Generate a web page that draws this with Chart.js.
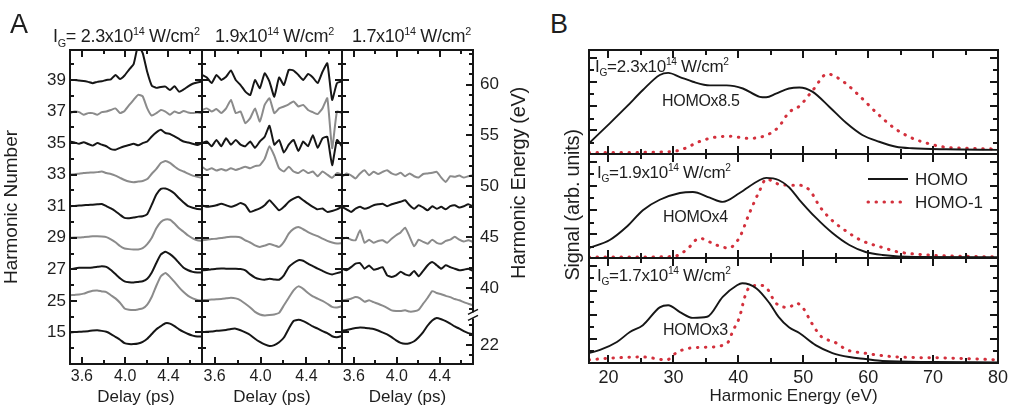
<!DOCTYPE html>
<html>
<head>
<meta charset="utf-8">
<title>Harmonic signal vs delay</title>
<script src="https://cdn.jsdelivr.net/npm/chart.js@4.4.1/dist/chart.umd.min.js"></script>
<style>
  body { margin: 0; background: #fff; }
  #wrap { position: relative; width: 1012px; height: 412px; overflow: hidden;
          font-family: "Liberation Sans", Arial, sans-serif; color: #1e1e1e; }
  canvas { position: absolute; }
  .lbl { position: absolute; white-space: nowrap; line-height: 1; letter-spacing: -0.3px; }
  .lbl sub, .lbl sup { font-size: 60%; line-height: 0; }
  .rot { transform: translate(-50%, -50%) rotate(-90deg); }
</style>
</head>
<body>
<div id="wrap">
  <canvas id="a1" width="203" height="412" style="left:0;top:0"></canvas>
  <canvas id="a2" width="153" height="412" style="left:190px;top:0"></canvas>
  <canvas id="a3" width="211" height="412" style="left:330px;top:0"></canvas>
  <canvas id="b1" width="439" height="106" style="left:560px;top:49px"></canvas>
  <canvas id="b2" width="439" height="106" style="left:560px;top:153px"></canvas>
  <canvas id="b3" width="452" height="155" style="left:560px;top:257px"></canvas>

  <div class="lbl" style="left:10px;top:11px;font-size:27px">A</div>
  <div class="lbl" style="left:550px;top:11px;font-size:27px">B</div>

  <div class="lbl" style="left:53px;top:27px;font-size:18px">I<sub>G</sub>= 2.3x10<sup>14</sup> W/cm<sup>2</sup></div>
  <div class="lbl" style="left:215px;top:27px;font-size:18px">1.9x10<sup>14</sup> W/cm<sup>2</sup></div>
  <div class="lbl" style="left:352px;top:27px;font-size:18px">1.7x10<sup>14</sup> W/cm<sup>2</sup></div>
  <div class="lbl rot" style="left:518px;top:183px;font-size:20px">Harmonic Energy (eV)</div>

  <div class="lbl rot" style="left:572px;top:205px;font-size:20px">Signal (arb. units)</div>
  <div class="lbl" style="left:595px;top:58px;font-size:17px">I<sub>G</sub>=2.3x10<sup>14</sup> W/cm<sup>2</sup></div>
  <div class="lbl" style="left:662px;top:93px;font-size:16px">HOMOx8.5</div>
  <div class="lbl" style="left:597px;top:164px;font-size:17px">I<sub>G</sub>=1.9x10<sup>14</sup> W/cm<sup>2</sup></div>
  <div class="lbl" style="left:663px;top:209px;font-size:16px">HOMOx4</div>
  <div class="lbl" style="left:597px;top:267px;font-size:17px">I<sub>G</sub>=1.7x10<sup>14</sup> W/cm<sup>2</sup></div>
  <div class="lbl" style="left:663px;top:322px;font-size:16px">HOMOx3</div>
</div>

<script>
// ---- panel A: delay scans, one array per harmonic (offset from its own baseline) ----
var delay = [3.490, 3.532, 3.574, 3.616, 3.658, 3.700, 3.742, 3.784, 3.826, 3.868,
             3.910, 3.952, 3.994, 4.036, 4.078, 4.120, 4.162, 4.204, 4.246, 4.288,
             4.330, 4.372, 4.414, 4.456, 4.498, 4.540, 4.582, 4.624, 4.666, 4.708];
var harmonics = [15, 25, 27, 29, 31, 33, 35, 37, 39];
var delayTicks = [3.6, 4.0, 4.4];
var delayMinor = [3.8, 4.2, 4.6];
var energyTicks = [22, 40, 45, 50, 55, 60];

// I_G = 2.3e14
var p1h39 = [0.00, 0.00, -0.02, -0.03, -0.06, -0.10, -0.06, -0.04, 0.00, 0.02, 0.16, 0.03, 0.14, 0.33, 0.50, 1.10, 0.85, 0.25, -0.18, -0.25, -0.22, -0.21, -0.32, -0.20, -0.37, -0.30, -0.20, -0.12, -0.08, -0.05];
var p1h37 = [-0.05, 0.00, -0.02, -0.10, -0.05, -0.05, -0.10, -0.02, 0.00, 0.05, 0.10, -0.05, 0.02, 0.20, 0.37, 0.53, 0.48, 0.10, -0.13, -0.05, 0.05, 0.00, -0.10, 0.00, -0.05, 0.02, -0.03, -0.05, -0.03, -0.05];
var p1h35 = [0.05, 0.02, -0.02, 0.03, -0.03, -0.08, 0.00, -0.05, -0.10, -0.19, -0.21, -0.15, -0.10, -0.06, -0.02, -0.07, 0.00, 0.05, 0.21, 0.34, 0.42, 0.32, 0.29, 0.21, 0.13, 0.05, 0.02, -0.02, -0.06, 0.00];
var p1h33 = [0.00, 0.01, 0.03, 0.05, 0.06, 0.07, 0.08, 0.10, 0.05, 0.02, -0.03, -0.10, -0.17, -0.22, -0.24, -0.22, -0.20, -0.14, 0.03, 0.18, 0.37, 0.43, 0.37, 0.26, 0.16, 0.10, 0.03, -0.03, -0.07, -0.10];
var p1h31 = [0.00, 0.01, 0.02, 0.03, 0.04, 0.05, 0.06, 0.07, 0.00, -0.07, -0.16, -0.27, -0.37, -0.38, -0.36, -0.33, -0.32, -0.25, 0.05, 0.37, 0.55, 0.56, 0.50, 0.40, 0.25, 0.12, 0.00, -0.05, -0.09, -0.10];
var p1h29 = [0.00, 0.01, 0.01, 0.02, 0.03, 0.05, 0.05, 0.04, 0.02, -0.05, -0.14, -0.26, -0.34, -0.36, -0.37, -0.37, -0.33, -0.20, 0.00, 0.30, 0.50, 0.58, 0.57, 0.45, 0.30, 0.19, 0.07, -0.02, -0.08, -0.10];
var p1h27 = [0.00, 0.03, 0.05, 0.05, 0.05, 0.06, 0.08, 0.10, 0.08, -0.02, -0.15, -0.28, -0.38, -0.41, -0.42, -0.40, -0.38, -0.30, -0.10, 0.20, 0.47, 0.56, 0.48, 0.36, 0.20, 0.05, -0.03, -0.08, -0.10, -0.10];
var p1h25 = [0.18, 0.19, 0.20, 0.23, 0.28, 0.32, 0.33, 0.30, 0.28, 0.18, 0.08, -0.06, -0.24, -0.28, -0.29, -0.27, -0.24, -0.12, 0.13, 0.48, 0.78, 0.88, 0.76, 0.60, 0.43, 0.28, 0.16, 0.08, 0.03, 0.01];
var p1h15 = [0.00, 0.01, 0.02, 0.03, 0.04, 0.06, 0.07, 0.05, 0.02, -0.05, -0.14, -0.23, -0.34, -0.37, -0.37, -0.35, -0.30, -0.20, -0.05, 0.10, 0.20, 0.29, 0.28, 0.20, 0.10, 0.02, -0.05, -0.10, -0.13, -0.13];

// I_G = 1.9e14
var p2h39 = [0.16, 0.08, -0.10, 0.16, 0.00, 0.10, 0.30, 0.00, -0.16, -0.37, -0.48, 0.00, -0.26, 0.21, -0.05, -0.53, 0.08, -0.16, 0.32, 0.30, 0.16, 0.00, 0.19, 0.08, -0.10, 0.26, 0.53, -0.63, -0.10, -0.05];
var p2h37 = [0.05, 0.10, 0.00, 0.08, -0.05, 0.10, 0.37, -0.05, 0.00, -0.37, -0.21, 0.10, -0.32, 0.21, 0.42, -0.05, 0.10, 0.16, 0.23, 0.32, 0.16, 0.21, 0.05, -0.02, -0.08, 0.10, 0.42, -1.16, 0.00, -0.05];
var p2h35 = [0.00, 0.05, -0.10, 0.10, -0.10, 0.15, -0.05, 0.10, -0.05, -0.10, 0.05, -0.15, 0.05, 0.20, 0.55, -0.05, 0.10, -0.30, -0.05, 0.10, -0.25, 0.05, -0.10, 0.25, -0.15, 0.15, 0.20, -0.70, 0.10, -0.10];
var p2h33 = [0.25, 0.15, 0.20, 0.13, 0.18, 0.13, 0.20, 0.15, 0.20, 0.25, 0.20, 0.27, 0.30, 0.50, 0.90, 0.60, 0.20, 0.10, 0.25, 0.10, 0.05, 0.15, 0.05, 0.10, -0.05, 0.10, 0.00, -0.10, 0.05, 0.00];
var p2h31 = [0.03, -0.02, 0.00, 0.03, 0.08, 0.03, -0.02, 0.03, 0.10, 0.03, -0.18, -0.13, -0.07, 0.03, 0.19, 0.03, -0.13, -0.02, 0.14, 0.24, 0.30, 0.19, 0.08, -0.02, -0.10, -0.07, -0.18, -0.15, -0.10, -0.02];
var p2h29 = [-0.08, -0.06, -0.04, -0.03, -0.01, 0.02, 0.03, 0.03, 0.01, -0.08, -0.15, -0.24, -0.29, -0.25, -0.20, -0.24, -0.29, -0.13, 0.13, 0.28, 0.34, 0.27, 0.18, 0.11, 0.05, -0.03, -0.10, -0.15, -0.18, -0.17];
var p2h27 = [-0.03, -0.02, 0.00, 0.02, 0.03, 0.02, 0.02, 0.02, 0.01, -0.03, -0.16, -0.26, -0.31, -0.33, -0.30, -0.32, -0.33, -0.19, 0.07, 0.20, 0.29, 0.27, 0.18, 0.10, 0.02, -0.05, -0.12, -0.16, -0.12, -0.08];
var p2h25 = [0.02, 0.03, 0.04, 0.05, 0.06, 0.08, 0.10, 0.08, 0.02, -0.09, -0.21, -0.35, -0.43, -0.46, -0.45, -0.43, -0.38, -0.14, 0.10, 0.33, 0.46, 0.38, 0.25, 0.14, 0.07, 0.00, -0.09, -0.19, -0.21, -0.17];
var p2h15 = [0.01, 0.02, 0.03, 0.05, 0.06, 0.08, 0.11, 0.12, 0.07, 0.00, -0.08, -0.20, -0.30, -0.38, -0.43, -0.40, -0.31, -0.16, 0.12, 0.36, 0.40, 0.36, 0.28, 0.19, 0.12, 0.04, -0.02, -0.12, -0.15, -0.11];

// I_G = 1.7e14
var p3h33 = [-0.07, 0.04, -0.02, -0.12, 0.04, 0.14, -0.02, 0.09, 0.02, 0.09, 0.14, 0.04, 0.00, 0.06, -0.05, 0.04, -0.05, -0.09, 0.02, 0.04, 0.06, 0.09, -0.09, -0.23, -0.05, -0.07, -0.03, -0.09, -0.05, -0.02];
var p3h31 = [-0.02, -0.10, -0.18, -0.08, -0.02, -0.08, -0.04, 0.03, 0.06, 0.08, 0.00, 0.06, 0.10, 0.14, 0.19, 0.03, -0.08, 0.03, -0.04, -0.13, 0.00, -0.08, -0.02, -0.10, 0.00, 0.03, -0.04, 0.00, 0.06, 0.00];
var p3h29 = [-0.03, 0.00, -0.06, -0.08, 0.24, -0.16, -0.06, -0.16, -0.10, -0.08, -0.16, -0.03, 0.08, 0.17, 0.32, 0.03, -0.27, -0.06, -0.13, -0.19, -0.06, -0.16, -0.19, -0.10, -0.06, 0.03, -0.06, -0.12, -0.08, -0.13];
var p3h27 = [0.02, -0.03, 0.07, 0.18, 0.20, 0.02, 0.12, -0.01, 0.02, 0.07, -0.19, -0.24, -0.19, -0.08, -0.16, -0.19, -0.05, -0.22, -0.05, 0.13, 0.23, 0.13, 0.02, 0.13, 0.07, 0.02, -0.03, -0.01, 0.02, -0.05];
var p3h25 = [0.02, 0.04, 0.07, 0.12, 0.08, -0.03, 0.02, -0.04, -0.09, -0.15, -0.22, -0.30, -0.32, -0.32, -0.30, -0.34, -0.33, -0.28, -0.09, 0.10, 0.31, 0.25, 0.21, 0.16, 0.12, 0.06, 0.02, -0.04, -0.09, -0.14];
var p3h15 = [0.06, 0.08, 0.11, 0.14, 0.16, 0.15, 0.13, 0.11, 0.06, 0.00, -0.06, -0.15, -0.25, -0.33, -0.36, -0.34, -0.28, -0.15, 0.01, 0.22, 0.38, 0.46, 0.42, 0.36, 0.28, 0.19, 0.12, 0.04, -0.02, -0.06];

// ---- panel B: spectra ----
var spectrumTicks = [20, 30, 40, 50, 60, 70, 80];
var spectrumMinor = [25, 35, 45, 55, 65, 75];

var homoE1 = [17, 20.2, 22.8, 25.3, 27.9, 29.2, 31, 33, 35.6, 38.2, 40.7, 43.3, 44.3, 45.8, 47.8, 49.4, 51.4, 54, 56.6, 59.1, 61.7, 64.3, 66.8, 72, 80];
var homoS1 = [1.03, 2.95, 4.55, 6.15, 7.6, 7.8, 7.4, 6.95, 6.6, 6.6, 6.3, 5.5, 5.45, 5.8, 6.3, 6.4, 6.0, 4.55, 3.0, 1.83, 1.18, 0.7, 0.55, 0.45, 0.4];
var homo1E1 = [17, 24, 28, 30.5, 32, 33.8, 36.3, 38.8, 41.5, 44.3, 46.2, 47.8, 49.4, 51.5, 53.7, 56.3, 58.8, 61.4, 64, 66.5, 69, 71.7, 75, 80];
var homo1S1 = [0.15, 0.15, 0.2, 0.3, 0.6, 1.15, 1.6, 1.7, 1.5, 1.8, 2.6, 4.0, 4.6, 6.15, 7.7, 6.9, 5.5, 3.9, 2.5, 1.6, 1.05, 0.67, 0.55, 0.48];

var homoE2 = [17, 20.2, 22.8, 25.3, 27.9, 31, 33, 35.6, 37.6, 40.2, 43.3, 44.3, 46.2, 47.8, 49.4, 51.9, 54.5, 57.1, 59.6, 62.2, 67.3, 80];
var homoS2 = [0.96, 1.73, 3.0, 4.6, 5.6, 6.25, 6.35, 5.8, 5.4, 6.25, 7.5, 7.7, 7.5, 6.8, 5.6, 3.9, 2.4, 1.25, 0.58, 0.29, 0.1, 0.08];
var homo1E2 = [17, 25, 30, 32, 34, 36.6, 38.5, 40.2, 41.7, 43.3, 44.3, 46.2, 48, 49.4, 51, 52.6, 54.3, 56.8, 58.9, 62, 64.5, 69, 80];
var homo1S2 = [0.1, 0.1, 0.15, 0.77, 1.9, 1.25, 0.96, 2.0, 4.3, 6.5, 7.6, 7.1, 7.0, 7.0, 6.5, 4.9, 3.7, 2.5, 1.7, 1.05, 0.6, 0.3, 0.1];

var homoE3 = [17, 18.7, 21.3, 23.3, 25.3, 27.9, 29.2, 31, 33, 35.2, 37.6, 39.8, 40.6, 42.8, 44.8, 46.2, 47.8, 49.4, 51.9, 54.5, 57.1, 59.6, 62.2, 70, 80];
var homoS3 = [0.95, 1.24, 2.0, 2.95, 3.6, 5.3, 5.5, 4.85, 4.3, 4.4, 6.3, 7.4, 7.6, 7.1, 5.7, 4.4, 3.4, 2.85, 1.7, 0.95, 0.57, 0.38, 0.19, 0.1, 0.05];
var homo1E3 = [17, 20, 25.3, 29, 30.4, 32.3, 35.2, 38.3, 39.2, 40.2, 41, 41.7, 43.3, 44.3, 45.8, 47.8, 48.9, 49.9, 51.3, 52.8, 54.8, 56.8, 59.3, 64.6, 72, 80];
var homo1S3 = [0.3, 0.45, 0.57, 0.3, 0.95, 1.4, 1.5, 1.9, 3.1, 4.4, 6.3, 7.2, 7.4, 7.2, 5.7, 5.3, 5.7, 5.3, 3.8, 2.5, 2.0, 1.24, 0.95, 0.57, 0.48, 0.3];
var signalMajor = [2.3, 4.6, 6.9, 9.2];
var signalMinor = [1.1, 3.4, 5.8, 8.1];

var ink = '#161616';
var grey = '#8b8b8b';
var red = '#d3303c';

Chart.defaults.font.family = '"Liberation Sans", Arial, sans-serif';
Chart.defaults.color = '#1e1e1e';

// harmonic -> stacking level, energy (eV) -> same level units (axis break below 25th)
function levelOf(h) { return harmonics.indexOf(h); }
function energyLevel(e) { return e > 30 ? (e / 1.55 - 23) / 2 : (e / 1.55 - 15) / 2; }

var levelMajor = harmonics.map(function (h, i) { return i; });
var levelMinor = [-0.5, 0.5, 1.5, 2.5, 3.5, 4.5, 5.5, 6.5, 7.5, 8.5];
var energyMinor = [21, 23, 24, 38, 39, 41, 42, 43, 44, 46, 47, 48, 49, 51, 52, 53, 54, 56, 57, 58, 59, 61, 62, 63];

// tick-mark setup per canvas
var aMarks = { xMajor: delayTicks, xMinor: delayMinor, long: 7, short: 4,
               left: { major: levelMajor, minor: levelMinor }, right: { major: levelMajor, minor: levelMinor } };
var bMarks = { xMajor: spectrumTicks, xMinor: spectrumMinor, long: 8, short: 5,
               left: { major: signalMajor, minor: signalMinor }, right: { major: signalMajor, minor: signalMinor } };
var markCfg = {
    a1: aMarks,
    a2: aMarks,
    a3: { xMajor: delayTicks, xMinor: delayMinor, long: 7, short: 4,
          left: { major: levelMajor, minor: levelMinor },
          right: { major: energyTicks.map(energyLevel), minor: energyMinor.map(energyLevel) },
          brk: 0.54 },
    b1: bMarks, b2: bMarks, b3: bMarks
};

// inward tick marks + frame, drawn over the data
function drawMarks(chart) {
    var o = markCfg[chart.canvas.id];
    if (!o) return;
    var ctx = chart.ctx, a = chart.chartArea;
    var xs = chart.scales.x, ys = chart.scales.y;
    ctx.save();
    ctx.setLineDash([]);
    ctx.globalAlpha = 1;
    ctx.strokeStyle = ink;
    ctx.lineCap = 'butt';
    ctx.lineWidth = 2;
    ctx.beginPath();
    function seg(x1, y1, x2, y2) { ctx.moveTo(x1, y1); ctx.lineTo(x2, y2); }
    var xsets = [[o.xMajor, o.long], [o.xMinor, o.short]];
    xsets.forEach(function (set) {
        set[0].forEach(function (v) {
            var px = Math.round(xs.getPixelForValue(v));
            seg(px, a.bottom, px, a.bottom - set[1]);
            seg(px, a.top, px, a.top + set[1]);
        });
    });
    ['left', 'right'].forEach(function (side) {
        var s = o[side];
        var x0 = side === 'left' ? a.left : a.right, dir = side === 'left' ? 1 : -1;
        [[s.major, o.long], [s.minor, o.short]].forEach(function (set) {
            set[0].forEach(function (v) {
                var p = Math.round(ys.getPixelForValue(v));
                if (p < a.top + 1 || p > a.bottom - 1) return;
                seg(x0, p, x0 + dir * set[1], p);
            });
        });
    });
    ctx.stroke();
    ctx.strokeRect(a.left, a.top, a.right - a.left, a.bottom - a.top);
    if (o.brk != null) {
        var yb = ys.getPixelForValue(o.brk);
        ctx.fillStyle = '#fff';
        ctx.fillRect(a.right - 2, yb - 3, 4, 6);
        ctx.lineWidth = 1.5;
        ctx.beginPath();
        seg(a.right - 5, yb - 1, a.right + 5, yb - 6);
        seg(a.right - 5, yb + 5, a.right + 5, yb);
        ctx.stroke();
    }
    ctx.restore();
}

var tickMarks = { id: 'tickMarks', afterDraw: drawMarks };

// small legend inside the middle spectrum
var lineKey = {
    id: 'lineKey',
    afterDraw: function (chart) {
        if (chart.canvas.id !== 'b2') return;
        var ctx = chart.ctx;
        var x0 = 308, y0 = 26, gap = 23;
        chart.data.datasets.forEach(function (ds, k) {
            var y = y0 + k * gap;
            ctx.save();
            ctx.strokeStyle = ds.borderColor;
            ctx.lineWidth = ds.borderWidth;
            ctx.lineCap = ds.borderCapStyle || 'butt';
            ctx.setLineDash(ds.borderDash || []);
            ctx.beginPath(); ctx.moveTo(x0, y); ctx.lineTo(x0 + 40, y); ctx.stroke();
            ctx.setLineDash([]);
            ctx.fillStyle = '#1e1e1e';
            ctx.font = '17px "Liberation Sans", Arial, sans-serif';
            ctx.textBaseline = 'middle';
            ctx.fillText(ds.label, x0 + 47, y + 1);
            ctx.restore();
        });
    }
};

Chart.register(tickMarks, lineKey);

function traces(list) {
    return list.map(function (t) {
        var lvl = levelOf(t.h);
        var isGrey = [25, 29, 33, 37].indexOf(t.h) >= 0;
        return {
            label: String(t.h),
            data: t.d.map(function (v, i) { return { x: delay[i], y: lvl + v }; }),
            borderColor: isGrey ? grey : ink,
            borderWidth: 2,
            pointRadius: 0,
            tension: 0.15
        };
    });
}

function delayAxis() {
    return {
        type: 'linear', min: 3.49, max: 4.71,
        grid: { display: false, drawTicks: false }, border: { display: false },
        afterBuildTicks: function (s) { s.ticks = delayTicks.map(function (v) { return { value: v }; }); },
        afterFit: function (s) { s.height = 48; },
        ticks: { font: { size: 16 }, padding: 3, maxRotation: 0, autoSkip: false,
                 callback: function (v) { return v.toFixed(1); } },
        title: { display: true, text: 'Delay (ps)', font: { size: 17 }, padding: { top: 0, bottom: 4 } }
    };
}

var baseOpts = { responsive: false, animation: false, events: [] };
var quiet = { legend: { display: false }, tooltip: { enabled: false } };

// ---- A1 ----
new Chart(document.getElementById('a1'), {
    type: 'line',
    data: { datasets: traces([
        { h: 39, d: p1h39 }, { h: 37, d: p1h37 }, { h: 35, d: p1h35 }, { h: 33, d: p1h33 }, { h: 31, d: p1h31 },
        { h: 29, d: p1h29 }, { h: 27, d: p1h27 }, { h: 25, d: p1h25 }, { h: 15, d: p1h15 }]) },
    options: Object.assign({}, baseOpts, {
        layout: { padding: { top: 50, right: 1 } },
        plugins: quiet,
        scales: {
            x: delayAxis(),
            y: {
                min: -1.0, max: 8.95,
                grid: { display: false, drawTicks: false }, border: { display: false },
                afterBuildTicks: function (s) { s.ticks = levelMajor.map(function (v) { return { value: v }; }); },
                afterFit: function (s) { s.width = 70; },
                ticks: { font: { size: 17 }, padding: 4, autoSkip: false,
                         callback: function (v) { return String(harmonics[Math.round(v)]); } },
                title: { display: true, text: 'Harmonic Number', font: { size: 19 }, padding: { top: 0, bottom: 0 } }
            }
        }
    })
});

// ---- A2 ----
new Chart(document.getElementById('a2'), {
    type: 'line',
    data: { datasets: traces([
        { h: 39, d: p2h39 }, { h: 37, d: p2h37 }, { h: 35, d: p2h35 }, { h: 33, d: p2h33 }, { h: 31, d: p2h31 },
        { h: 29, d: p2h29 }, { h: 27, d: p2h27 }, { h: 25, d: p2h25 }, { h: 15, d: p2h15 }]) },
    options: Object.assign({}, baseOpts, {
        layout: { padding: { top: 50, left: 12, right: 1 } },
        plugins: quiet,
        scales: { x: delayAxis(), y: { min: -1.0, max: 8.95, display: false } }
    })
});

// ---- A3 ----
new Chart(document.getElementById('a3'), {
    type: 'line',
    data: { datasets: traces([
        { h: 33, d: p3h33 }, { h: 31, d: p3h31 }, { h: 29, d: p3h29 },
        { h: 27, d: p3h27 }, { h: 25, d: p3h25 }, { h: 15, d: p3h15 }]) },
    options: Object.assign({}, baseOpts, {
        layout: { padding: { top: 50, left: 12 } },
        plugins: quiet,
        scales: {
            x: delayAxis(),
            y: {
                position: 'right', min: -1.0, max: 8.95,
                grid: { display: false, drawTicks: false }, border: { display: false },
                afterBuildTicks: function (s) { s.ticks = energyTicks.map(function (e) { return { value: energyLevel(e) }; }); },
                afterFit: function (s) { s.width = 68; },
                ticks: { font: { size: 17 }, padding: 7, autoSkip: false,
                         callback: function (v, i) { return String(energyTicks[i]); } }
            }
        }
    })
});

// ---- B panels ----
function spectra(eA, sA, eB, sB) {
    return [
        { label: 'HOMO', data: eA.map(function (e, i) { return { x: e, y: sA[i] }; }),
          borderColor: ink, borderWidth: 1.9, pointRadius: 0, cubicInterpolationMode: 'monotone' },
        { label: 'HOMO-1', data: eB.map(function (e, i) { return { x: e, y: sB[i] }; }),
          borderColor: red, borderWidth: 3, borderDash: [0.5, 7.5], borderCapStyle: 'round',
          pointRadius: 0, cubicInterpolationMode: 'monotone' }
    ];
}

new Chart(document.getElementById('b1'), {
    type: 'line',
    data: { datasets: spectra(homoE1, homoS1, homo1E1, homo1S1) },
    options: Object.assign({}, baseOpts, {
        layout: { padding: { top: 1, bottom: 1, left: 29, right: 1 } },
        plugins: quiet,
        scales: { x: { type: 'linear', min: 17, max: 80, display: false }, y: { min: 0, max: 10, display: false } }
    })
});

new Chart(document.getElementById('b2'), {
    type: 'line',
    data: { datasets: spectra(homoE2, homoS2, homo1E2, homo1S2) },
    options: Object.assign({}, baseOpts, {
        layout: { padding: { top: 1, bottom: 1, left: 29, right: 1 } },
        plugins: quiet,
        scales: { x: { type: 'linear', min: 17, max: 80, display: false }, y: { min: 0, max: 10, display: false } }
    })
});

new Chart(document.getElementById('b3'), {
    type: 'line',
    data: { datasets: spectra(homoE3, homoS3, homo1E3, homo1S3) },
    options: Object.assign({}, baseOpts, {
        layout: { padding: { top: 1, left: 29, right: 14 } },
        plugins: quiet,
        scales: {
            x: {
                type: 'linear', min: 17, max: 80,
                grid: { display: false, drawTicks: false }, border: { display: false },
                afterBuildTicks: function (s) { s.ticks = spectrumTicks.map(function (v) { return { value: v }; }); },
                afterFit: function (s) { s.height = 49; },
                ticks: { font: { size: 18 }, padding: 4, maxRotation: 0, autoSkip: false },
                title: { display: true, text: 'Harmonic Energy (eV)', font: { size: 17 }, padding: { top: 0, bottom: 5 } }
            },
            y: { min: 0, max: 10, display: false }
        }
    })
});
</script>
</body>
</html>
